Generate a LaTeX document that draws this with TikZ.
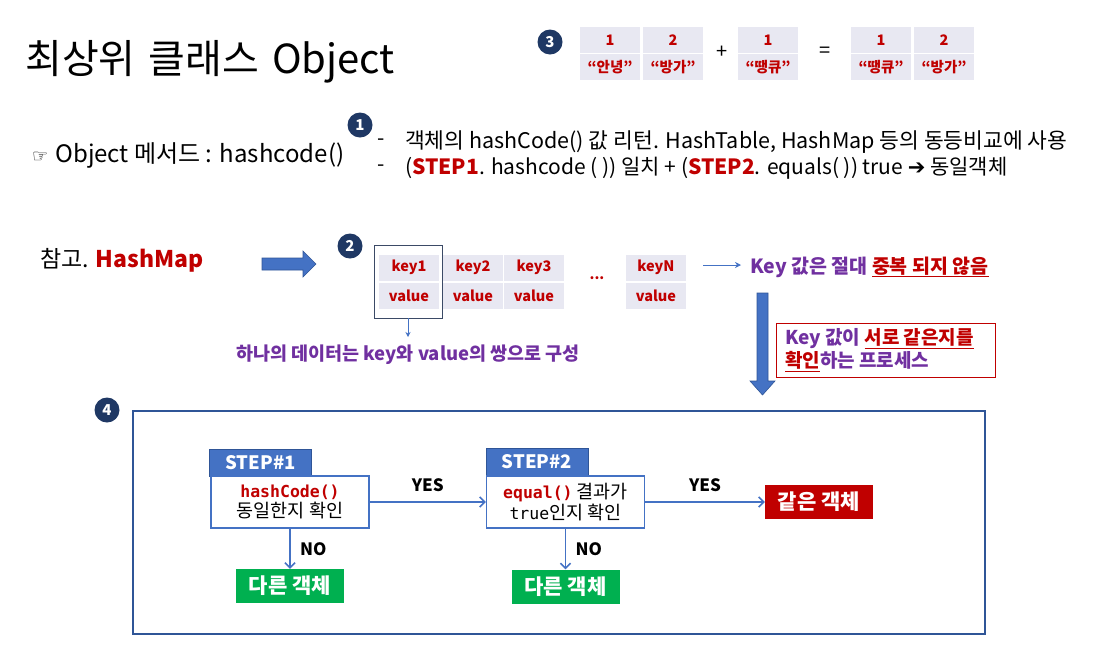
\documentclass[tikz,border=0pt]{standalone}
\usepackage{fontspec}
\setmainfont{Noto Sans CJK KR}
\newfontfamily\monof{DejaVu Sans Mono}
\newfontfamily\symf{DejaVu Sans}
\usetikzlibrary{arrows.meta}
\definecolor{navy}{HTML}{1F3864}
\definecolor{hred}{HTML}{C00000}
\definecolor{cellbg}{HTML}{E8E8F2}
\definecolor{purp}{HTML}{7030A0}
\definecolor{mblue}{HTML}{4472C4}
\definecolor{dblue}{HTML}{2F5597}
\definecolor{grn}{HTML}{00B050}
\definecolor{framegray}{HTML}{3B4A66}
\newcommand{\fsz}[1]{\fontsize{#1pt}{#1pt}\selectfont}
\newcommand{\redul}[1]{\textcolor{hred}{\underline{#1}}}
\begin{document}
\begin{tikzpicture}[x=1pt,y=-1pt,
  badge/.style={circle,fill=navy,text=white,inner sep=0,minimum size=25pt,font=\fsz{15}\bfseries},
  cell/.style={fill=cellbg,minimum width=60pt,minimum height=26pt,inner sep=0,text=hred,font=\fsz{14.5}\bfseries},
  txt/.style={inner sep=0,anchor=west},
  flowarrow/.style={draw=mblue,line width=1.6pt,-{Straight Barb[length=5pt,width=10pt]}},
  flowlabel/.style={font=\fsz{17}\bfseries,text=black},
  stephead/.style={fill=mblue,draw=dblue,line width=0.8pt,text=white,font=\fsz{18.5}\bfseries,inner sep=0,minimum width=102pt,minimum height=27pt},
  stepbox/.style={draw=mblue,fill=white,line width=1.4pt,inner sep=0,minimum width=158pt,minimum height=52pt,align=center,font=\fsz{18.5}},
  resultbox/.style={inner sep=0,minimum width=108pt,minimum height=34pt,text=white,font=\fsz{21}\bfseries}]
\useasboundingbox (0,0) rectangle (1107,649);

% title
\node[txt,font=\fsz{40}] (title) at (25,62) {최상위\hspace{13pt}클래스\hspace{13pt}Object};

% (3) map put example
\node[badge] (b3) at (550,42) {3};
\node[cell] (a1) at (610,40) {1};
\node[cell] (a2) at (673,40) {2};
\node[cell] (v1) at (610,67) {“안녕”};
\node[cell] (v2) at (673,67) {“방가”};
\node[font=\fsz{20}] (plus) at (722,52) {+};
\node[cell] (c1) at (768,40) {1};
\node[cell] (cv) at (768,67) {“땡큐”};
\node[font=\fsz{20}] (eq) at (825,52) {=};
\node[cell] (r1) at (881,40) {1};
\node[cell] (r2) at (944,40) {2};
\node[cell] (rv1) at (881,67) {“땡큐”};
\node[cell] (rv2) at (944,67) {“방가”};

% (1) hashcode description
\node[badge] (b1) at (360,125) {1};
\node[txt] (meth) at (32,155) {{\symf\fsz{18}☞}\,\fsz{24} Object 메서드 : hashcode()};
\node[txt,font=\fsz{21}] (d1) at (377,142) {-};
\node[txt,font=\fsz{21.5}] (l1) at (405,142) {객체의 hashCode() 값 리턴. HashTable, HashMap 등의 동등비교에 사용};
\node[txt,font=\fsz{21}] (d2) at (377,168) {-};
\node[txt,font=\fsz{21}] (l2) at (405,168) {(\textcolor{hred}{\bfseries STEP1}. hashcode ( )) 일치 + (\textcolor{hred}{\bfseries STEP2}. equals( )) true {\symf\bfseries ➔} 동일객체};

% (2) HashMap
\node[txt,font=\fsz{23}] (ref) at (40,260) {참고. \textcolor{hred}{\bfseries HashMap}};
\draw[fill=mblue,draw=dblue,line width=0.6pt] (262,258) -- (303,258) -- (303,251) -- (316,264) -- (303,277) -- (303,270) -- (262,270) -- cycle;
\node[badge] (b2) at (350,246) {2};
\node[cell] (k1) at (409,267.5) {key1};
\node[cell] (k2) at (473,267.5) {key2};
\node[cell] (k3) at (534,267.5) {key3};
\node[cell] (kn) at (656,267.5) {keyN};
\node[cell] (w1) at (409,295.5) {value};
\node[cell] (w2) at (473,295.5) {value};
\node[cell] (w3) at (534,295.5) {value};
\node[cell] (wn) at (656,295.5) {value};
\node[font=\fsz{14}\bfseries,text=hred] (dots) at (597,278) {...};
\draw[framegray,line width=1pt] (374,245) rectangle (442,318);
\coordinate (pairtop) at (408,318);
\node[font=\fsz{18.5}\bfseries,text=purp,inner sep=0] (pair) at (408,355) {하나의 데이터는 key와 value의 쌍으로 구성};
\draw[mblue,line width=0.8pt,-{Stealth[length=5pt,width=5pt]}] (pairtop) -- (408,337);
\coordinate (keyarrow) at (703,265);
\node[txt,font=\fsz{19.5}\bfseries,text=purp] (uniq) at (750,267) {Key 값은 절대 \redul{중복 되지 않음}};
\draw[mblue,line width=0.8pt,-{Stealth[length=6pt,width=6pt]}] (keyarrow) -- (741,265);
% big down arrow
\draw[fill=mblue,draw=dblue,line width=0.6pt] (757,293) -- (768,293) -- (768,381) -- (775,381) -- (762.5,395) -- (750,381) -- (757,381) -- cycle;
\node[draw=hred,line width=0.8pt,minimum width=219pt,minimum height=54pt,inner sep=0] (proc) at (885.5,350) {};
\node[txt,font=\fsz{19}\bfseries,text=purp,align=left] (proctext) at (785,350) {Key 값이 \redul{서로 같은지를}\\[2pt]\redul{확인}하는 프로세스};

% (4) comparison flow
\node[badge] (b4) at (107,410) {4};
\draw[dblue,line width=1.4pt] (133,411) rectangle (985,634);

\node[stephead] (h1) at (260.5,462.5) {STEP\#1};
\node[stepbox] (s1) at (290,502) {\textcolor{hred}{\monof\bfseries\fsz{16.5}hashCode()}\\[1pt]동일한지 확인};
\node[stephead] (h2) at (537,462) {STEP\#2};
\node[stepbox] (s2) at (565.5,502) {{\monof\bfseries\fsz{16.5}\textcolor{hred}{equal()}} 결과가\\[1pt]{\monof\fsz{16.5}true}인지 확인};
\node[resultbox,fill=grn] (n1) at (290,586) {다른 객체};
\node[resultbox,fill=grn] (n2) at (565.5,586.5) {다른 객체};
\node[resultbox,fill=hred] (same) at (819,502) {같은 객체};

\draw[flowarrow] (s1.east) -- (s2.west) node[midway,above=6pt,flowlabel] {YES};
\draw[flowarrow] (s2.east) -- (same.west) node[midway,above=6pt,flowlabel] {YES};
\draw[flowarrow] (s1.south) -- (n1.north) node[midway,right=6pt,flowlabel] {NO};
\draw[flowarrow] (s2.south) -- (n2.north) node[midway,right=6pt,flowlabel] {NO};
\end{tikzpicture}
\end{document}
